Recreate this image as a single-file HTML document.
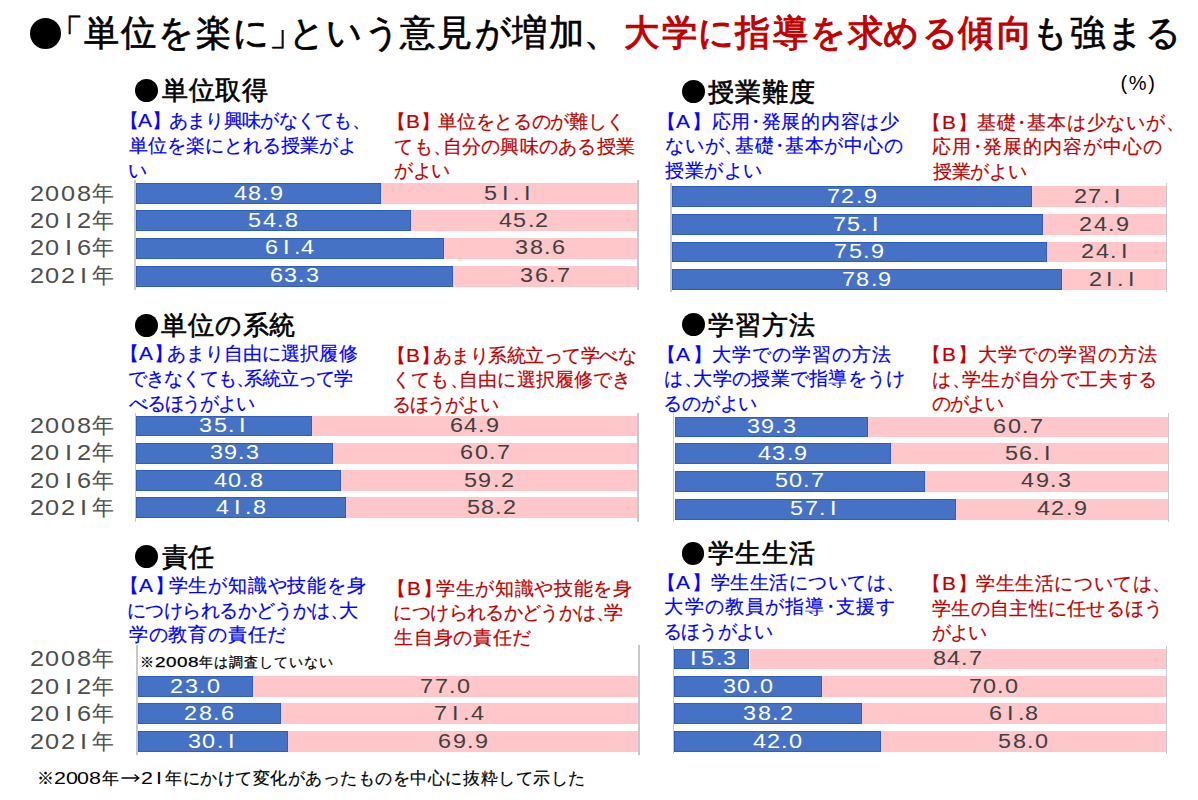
<!DOCTYPE html>
<html lang="ja"><head><meta charset="utf-8"><title>chart</title>
<style>
*{margin:0;padding:0;box-sizing:border-box}
html,body{width:1198px;height:800px;overflow:hidden;background:#fff}
body{position:relative;font-family:"Liberation Sans",sans-serif;color:#000}
.a{position:absolute;white-space:nowrap}
.c{position:absolute;border-radius:50%;background:#000}
.ti{position:absolute;white-space:nowrap;font-size:35px;line-height:45px;-webkit-text-stroke:0.7px #000;transform:scaleY(1.02);transform-origin:0 23px}
.tr{color:#c00000;-webkit-text-stroke:1.1px #c00000}
.t{position:absolute;white-space:nowrap;font-size:19px;line-height:24px;-webkit-text-stroke:0.2px}
.h{position:absolute;white-space:nowrap;font-size:26px;line-height:32px;-webkit-text-stroke:0.65px #000}
.bar{position:absolute}
.bb{box-shadow:inset 0 0 0 1px #2e5fc0}
.one{font-style:normal;padding:0 0.139em}
.fd{display:inline-block;transform:scaleX(1.3);transform-origin:0 0;letter-spacing:-0.2px;-webkit-text-stroke:0}
#foot{-webkit-text-stroke:0.2px}
#note{-webkit-text-stroke:0.25px}
.ax{position:absolute;width:1.5px;background:#c8c8c8}
.v{position:absolute;white-space:nowrap;text-align:center;font-size:19.5px;line-height:20px}
.v span{display:inline-block;transform:scaleX(1.2)}
.yr{position:absolute;white-space:nowrap;font-size:22px;line-height:24px;color:#4d4d4d}
.yd{display:inline-block;transform:scaleX(1.15);transform-origin:0 0;letter-spacing:1.35px;margin-right:8.15px}
.q{position:absolute;white-space:nowrap}
.k0{font-size:20px;line-height:22px;color:rgb(0, 0, 0)}
.k1{font-size:26px;line-height:32px;color:rgb(0, 0, 0);-webkit-text-stroke:0.65px rgb(0, 0, 0)}
.k2{font-size:19px;line-height:24px;color:rgb(0, 0, 255);-webkit-text-stroke:0.2px rgb(0, 0, 255)}
.k3{font-size:19px;line-height:24px;color:rgb(0, 0, 255);-webkit-text-stroke:0.2px rgb(0, 0, 255);transform:matrix(1.1, 0, 0, 1, 0, 0);transform-origin:0 0}
.k4{font-size:19px;line-height:24px;color:rgb(192, 0, 0);-webkit-text-stroke:0.2px rgb(192, 0, 0)}
.k5{font-size:19px;line-height:24px;color:rgb(192, 0, 0);-webkit-text-stroke:0.2px rgb(192, 0, 0);transform:matrix(1.1, 0, 0, 1, 0, 0);transform-origin:0 0}
.k6{font-size:22px;line-height:24px;color:rgb(77, 77, 77);transform:matrix(1.15, 0, 0, 1, 0, 0);transform-origin:0 0}
.k7{font-size:22px;line-height:24px;color:rgb(77, 77, 77)}
.k8{font-size:19.5px;line-height:20px;color:rgb(255, 255, 255);transform:matrix(1.2, 0, 0, 1, 0, 0);transform-origin:0 0}
.k9{font-size:19.5px;line-height:20px;color:rgb(64, 64, 64);transform:matrix(1.2, 0, 0, 1, 0, 0);transform-origin:0 0}
.k10{font-size:14px;line-height:16px;color:rgb(0, 0, 0);-webkit-text-stroke:0.25px rgb(0, 0, 0)}
.k11{font-size:14px;line-height:16px;color:rgb(0, 0, 0);-webkit-text-stroke:0.25px rgb(0, 0, 0);transform:matrix(1.35, 0, 0, 1, 0, 0);transform-origin:0 0}
.k12{font-size:16.5px;line-height:20px;color:rgb(0, 0, 0);-webkit-text-stroke:0.2px rgb(0, 0, 0)}
.k13{font-size:16.5px;line-height:20px;color:rgb(0, 0, 0);transform:matrix(1.3, 0, 0, 1, 0, 0);transform-origin:0 0}
</style></head><body>

<div class="c" style="left:30px;top:17.5px;width:31px;height:31px"></div>
<div class="ti" style="left:48.1px;top:9.6px">「</div>
<div class="ti" style="left:84.2px;top:9.6px">単</div>
<div class="ti" style="left:121.3px;top:9.6px">位</div>
<div class="ti" style="left:158.2px;top:9.6px">を</div>
<div class="ti" style="left:196.4px;top:9.6px">楽</div>
<div class="ti" style="left:232.9px;top:9.6px">に</div>
<div class="ti" style="left:268.9px;top:9.6px">」</div>
<div class="ti" style="left:289.4px;top:9.6px">と</div>
<div class="ti" style="left:325.5px;top:9.6px">い</div>
<div class="ti" style="left:364.1px;top:9.6px">う</div>
<div class="ti" style="left:400.4px;top:9.6px">意</div>
<div class="ti" style="left:437.1px;top:9.6px">見</div>
<div class="ti" style="left:475.1px;top:9.6px">が</div>
<div class="ti" style="left:512.0px;top:9.6px">増</div>
<div class="ti" style="left:549.3px;top:9.6px">加</div>
<div class="ti" style="left:584.0px;top:9.6px">、</div>
<div class="ti tr" style="left:624.4px;top:9.6px">大</div>
<div class="ti tr" style="left:661.5px;top:9.6px">学</div>
<div class="ti tr" style="left:698.2px;top:9.6px">に</div>
<div class="ti tr" style="left:735.1px;top:9.6px">指</div>
<div class="ti tr" style="left:772.6px;top:9.6px">導</div>
<div class="ti tr" style="left:809.5px;top:9.6px">を</div>
<div class="ti tr" style="left:848.0px;top:9.6px">求</div>
<div class="ti tr" style="left:883.4px;top:9.6px">め</div>
<div class="ti tr" style="left:922.4px;top:9.6px">る</div>
<div class="ti tr" style="left:958.2px;top:9.6px">傾</div>
<div class="ti tr" style="left:997.0px;top:9.6px">向</div>
<div class="ti" style="left:1031.9px;top:9.6px">も</div>
<div class="ti" style="left:1069.6px;top:9.6px">強</div>
<div class="ti" style="left:1106.6px;top:9.6px">ま</div>
<div class="ti" style="left:1145.0px;top:9.6px">る</div>
<div class="c" style="left:135.0px;top:78.8px;width:23.3px;height:23.3px"></div>
<div class="c" style="left:681.6px;top:80.0px;width:23.2px;height:23.2px"></div>
<div class="c" style="left:134.8px;top:314.0px;width:22.8px;height:22.8px"></div>
<div class="c" style="left:681.6px;top:313.1px;width:23.0px;height:23.0px"></div>
<div class="c" style="left:135.0px;top:545.0px;width:23.1px;height:23.1px"></div>
<div class="c" style="left:681.6px;top:541.9px;width:22.7px;height:22.7px"></div>
<div class="ax" style="left:134.4px;top:180.0px;height:109.5px"></div>
<div class="ax" style="left:637.0px;top:180.0px;height:109.5px"></div>
<div class="bar bb" style="left:136.0px;top:183.4px;width:245.0px;height:20.6px;background:#4672c5"></div>
<div class="bar" style="left:381.0px;top:183.4px;width:256.0px;height:20.6px;background:#ffc7c9"></div>
<div class="bar bb" style="left:136.0px;top:210.4px;width:274.5px;height:20.6px;background:#4672c5"></div>
<div class="bar" style="left:410.5px;top:210.4px;width:226.5px;height:20.6px;background:#ffc7c9"></div>
<div class="bar bb" style="left:136.0px;top:238.0px;width:307.6px;height:20.6px;background:#4672c5"></div>
<div class="bar" style="left:443.6px;top:238.0px;width:193.4px;height:20.6px;background:#ffc7c9"></div>
<div class="bar bb" style="left:136.0px;top:266.0px;width:317.1px;height:20.6px;background:#4672c5"></div>
<div class="bar" style="left:453.1px;top:266.0px;width:183.9px;height:20.6px;background:#ffc7c9"></div>
<div class="ax" style="left:670.4px;top:183.4px;height:109.1px"></div>
<div class="ax" style="left:1165.7px;top:183.4px;height:109.1px"></div>
<div class="bar bb" style="left:672.0px;top:186.4px;width:359.9px;height:20.9px;background:#4672c5"></div>
<div class="bar" style="left:1031.9px;top:186.4px;width:133.8px;height:20.9px;background:#ffc7c9"></div>
<div class="bar bb" style="left:672.0px;top:214.4px;width:370.8px;height:20.9px;background:#4672c5"></div>
<div class="bar" style="left:1042.8px;top:214.4px;width:122.9px;height:20.9px;background:#ffc7c9"></div>
<div class="bar bb" style="left:672.0px;top:241.5px;width:374.7px;height:20.9px;background:#4672c5"></div>
<div class="bar" style="left:1046.7px;top:241.5px;width:119.0px;height:20.9px;background:#ffc7c9"></div>
<div class="bar bb" style="left:672.0px;top:269.4px;width:389.5px;height:20.9px;background:#4672c5"></div>
<div class="bar" style="left:1061.5px;top:269.4px;width:104.2px;height:20.9px;background:#ffc7c9"></div>
<div class="ax" style="left:134.6px;top:413.0px;height:108.6px"></div>
<div class="ax" style="left:637.2px;top:413.0px;height:108.6px"></div>
<div class="bar bb" style="left:136.2px;top:415.5px;width:175.9px;height:20.8px;background:#4672c5"></div>
<div class="bar" style="left:312.1px;top:415.5px;width:325.1px;height:20.8px;background:#ffc7c9"></div>
<div class="bar bb" style="left:136.2px;top:442.8px;width:196.9px;height:20.8px;background:#4672c5"></div>
<div class="bar" style="left:333.1px;top:442.8px;width:304.1px;height:20.8px;background:#ffc7c9"></div>
<div class="bar bb" style="left:136.2px;top:470.4px;width:204.4px;height:20.8px;background:#4672c5"></div>
<div class="bar" style="left:340.6px;top:470.4px;width:296.6px;height:20.8px;background:#ffc7c9"></div>
<div class="bar bb" style="left:136.2px;top:497.3px;width:209.4px;height:20.8px;background:#4672c5"></div>
<div class="bar" style="left:345.6px;top:497.3px;width:291.6px;height:20.8px;background:#ffc7c9"></div>
<div class="ax" style="left:672.9px;top:413.1px;height:109.4px"></div>
<div class="ax" style="left:1167.8px;top:413.1px;height:109.4px"></div>
<div class="bar bb" style="left:674.5px;top:416.5px;width:193.9px;height:20.6px;background:#4672c5"></div>
<div class="bar" style="left:868.4px;top:416.5px;width:299.4px;height:20.6px;background:#ffc7c9"></div>
<div class="bar bb" style="left:674.5px;top:443.3px;width:216.6px;height:20.6px;background:#4672c5"></div>
<div class="bar" style="left:891.1px;top:443.3px;width:276.7px;height:20.6px;background:#ffc7c9"></div>
<div class="bar bb" style="left:674.5px;top:471.1px;width:250.1px;height:20.6px;background:#4672c5"></div>
<div class="bar" style="left:924.6px;top:471.1px;width:243.2px;height:20.6px;background:#ffc7c9"></div>
<div class="bar bb" style="left:674.5px;top:499.1px;width:281.7px;height:20.6px;background:#4672c5"></div>
<div class="bar" style="left:956.2px;top:499.1px;width:211.6px;height:20.6px;background:#ffc7c9"></div>
<div class="ax" style="left:136.0px;top:645.4px;height:109.6px"></div>
<div class="ax" style="left:638.0px;top:645.4px;height:109.6px"></div>
<div class="bar bb" style="left:137.6px;top:676.2px;width:115.1px;height:20.7px;background:#4672c5"></div>
<div class="bar" style="left:252.7px;top:676.2px;width:385.3px;height:20.7px;background:#ffc7c9"></div>
<div class="bar bb" style="left:137.6px;top:703.1px;width:143.1px;height:20.7px;background:#4672c5"></div>
<div class="bar" style="left:280.7px;top:703.1px;width:357.3px;height:20.7px;background:#ffc7c9"></div>
<div class="bar bb" style="left:137.6px;top:731.1px;width:150.6px;height:20.7px;background:#4672c5"></div>
<div class="bar" style="left:288.2px;top:731.1px;width:349.8px;height:20.7px;background:#ffc7c9"></div>
<div class="ax" style="left:672.7px;top:645.5px;height:108.3px"></div>
<div class="ax" style="left:1165.7px;top:645.5px;height:108.3px"></div>
<div class="bar bb" style="left:674.3px;top:648.5px;width:75.2px;height:20.7px;background:#4672c5"></div>
<div class="bar" style="left:749.5px;top:648.5px;width:416.2px;height:20.7px;background:#ffc7c9"></div>
<div class="bar bb" style="left:674.3px;top:676.3px;width:147.4px;height:20.7px;background:#4672c5"></div>
<div class="bar" style="left:821.7px;top:676.3px;width:344.0px;height:20.7px;background:#ffc7c9"></div>
<div class="bar bb" style="left:674.3px;top:703.1px;width:187.7px;height:20.7px;background:#4672c5"></div>
<div class="bar" style="left:862.0px;top:703.1px;width:303.7px;height:20.7px;background:#ffc7c9"></div>
<div class="bar bb" style="left:674.3px;top:731.1px;width:206.4px;height:20.7px;background:#4672c5"></div>
<div class="bar" style="left:880.7px;top:731.1px;width:285.0px;height:20.7px;background:#ffc7c9"></div>


<div class="q k0" style="left:1120.59px;top:71.59px">(</div>
<div class="q k0" style="left:1128.84px;top:71.59px">%</div>
<div class="q k0" style="left:1148.23px;top:71.59px">)</div>
<div class="q k1" style="left:162.30px;top:73.50px">単</div>
<div class="q k1" style="left:188.77px;top:73.50px">位</div>
<div class="q k1" style="left:215.23px;top:73.50px">取</div>
<div class="q k1" style="left:241.70px;top:73.50px">得</div>
<div class="q k1" style="left:708.30px;top:75.50px">授</div>
<div class="q k1" style="left:735.16px;top:75.50px">業</div>
<div class="q k1" style="left:762.02px;top:75.50px">難</div>
<div class="q k1" style="left:788.88px;top:75.50px">度</div>
<div class="q k1" style="left:161.19px;top:309.09px">単</div>
<div class="q k1" style="left:188.00px;top:309.09px">位</div>
<div class="q k1" style="left:214.83px;top:309.09px">の</div>
<div class="q k1" style="left:242.66px;top:309.09px">系</div>
<div class="q k1" style="left:269.48px;top:309.09px">統</div>
<div class="q k1" style="left:707.59px;top:309.00px">学</div>
<div class="q k1" style="left:734.69px;top:309.00px">習</div>
<div class="q k1" style="left:761.80px;top:309.00px">方</div>
<div class="q k1" style="left:788.89px;top:309.00px">法</div>
<div class="q k1" style="left:161.69px;top:540.50px">責</div>
<div class="q k1" style="left:187.69px;top:540.50px">任</div>
<div class="q k1" style="left:707.59px;top:537.14px">学</div>
<div class="q k1" style="left:734.69px;top:537.14px">生</div>
<div class="q k1" style="left:761.80px;top:537.14px">生</div>
<div class="q k1" style="left:788.89px;top:537.14px">活</div>
<div class="q k2" style="left:119.50px;top:109.30px">【</div>
<div class="q k3" style="left:137.81px;top:109.30px">A</div>
<div class="q k2" style="left:152.30px;top:109.30px">】</div>
<div class="q k2" style="left:168.69px;top:109.30px">あ</div>
<div class="q k2" style="left:187.00px;top:109.30px">ま</div>
<div class="q k2" style="left:205.30px;top:109.30px">り</div>
<div class="q k2" style="left:223.61px;top:109.30px">興</div>
<div class="q k2" style="left:241.91px;top:109.30px">味</div>
<div class="q k2" style="left:260.22px;top:109.30px">が</div>
<div class="q k2" style="left:278.52px;top:109.30px">な</div>
<div class="q k2" style="left:296.83px;top:109.30px">く</div>
<div class="q k2" style="left:315.14px;top:109.30px">て</div>
<div class="q k2" style="left:333.44px;top:109.30px">も</div>
<div class="q k2" style="left:351.77px;top:109.30px">、</div>
<div class="q k2" style="left:128.89px;top:133.89px">単</div>
<div class="q k2" style="left:147.88px;top:133.89px">位</div>
<div class="q k2" style="left:166.88px;top:133.89px">を</div>
<div class="q k2" style="left:185.88px;top:133.89px">楽</div>
<div class="q k2" style="left:204.88px;top:133.89px">に</div>
<div class="q k2" style="left:223.88px;top:133.89px">と</div>
<div class="q k2" style="left:242.88px;top:133.89px">れ</div>
<div class="q k2" style="left:261.88px;top:133.89px">る</div>
<div class="q k2" style="left:280.88px;top:133.89px">授</div>
<div class="q k2" style="left:299.88px;top:133.89px">業</div>
<div class="q k2" style="left:318.88px;top:133.89px">が</div>
<div class="q k2" style="left:337.88px;top:133.89px">よ</div>
<div class="q k2" style="left:127.89px;top:158.50px">い</div>
<div class="q k4" style="left:387.39px;top:110.19px">【</div>
<div class="q k5" style="left:406.09px;top:110.19px">B</div>
<div class="q k4" style="left:420.98px;top:110.19px">】</div>
<div class="q k4" style="left:438.16px;top:110.19px">単</div>
<div class="q k4" style="left:456.86px;top:110.19px">位</div>
<div class="q k4" style="left:475.56px;top:110.19px">を</div>
<div class="q k4" style="left:494.27px;top:110.19px">と</div>
<div class="q k4" style="left:512.97px;top:110.19px">る</div>
<div class="q k4" style="left:531.67px;top:110.19px">の</div>
<div class="q k4" style="left:550.38px;top:110.19px">が</div>
<div class="q k4" style="left:569.08px;top:110.19px">難</div>
<div class="q k4" style="left:587.78px;top:110.19px">し</div>
<div class="q k4" style="left:606.48px;top:110.19px">く</div>
<div class="q k4" style="left:394.39px;top:134.80px">て</div>
<div class="q k4" style="left:413.62px;top:134.80px">も</div>
<div class="q k4" style="left:432.88px;top:134.80px">、</div>
<div class="q k4" style="left:442.62px;top:134.80px">自</div>
<div class="q k4" style="left:461.86px;top:134.80px">分</div>
<div class="q k4" style="left:481.09px;top:134.80px">の</div>
<div class="q k4" style="left:500.33px;top:134.80px">興</div>
<div class="q k4" style="left:519.58px;top:134.80px">味</div>
<div class="q k4" style="left:538.81px;top:134.80px">の</div>
<div class="q k4" style="left:558.05px;top:134.80px">あ</div>
<div class="q k4" style="left:577.30px;top:134.80px">る</div>
<div class="q k4" style="left:596.53px;top:134.80px">授</div>
<div class="q k4" style="left:615.77px;top:134.80px">業</div>
<div class="q k4" style="left:394.39px;top:159.39px">が</div>
<div class="q k4" style="left:412.53px;top:159.39px">よ</div>
<div class="q k4" style="left:430.69px;top:159.39px">い</div>
<div class="q k2" style="left:656.50px;top:109.80px">【</div>
<div class="q k3" style="left:676.30px;top:109.80px">A</div>
<div class="q k2" style="left:692.27px;top:109.80px">】</div>
<div class="q k2" style="left:711.62px;top:109.80px">応</div>
<div class="q k2" style="left:731.41px;top:109.80px">用</div>
<div class="q k2" style="left:746.47px;top:109.80px">・</div>
<div class="q k2" style="left:761.52px;top:109.80px">発</div>
<div class="q k2" style="left:781.30px;top:109.80px">展</div>
<div class="q k2" style="left:801.09px;top:109.80px">的</div>
<div class="q k2" style="left:820.88px;top:109.80px">内</div>
<div class="q k2" style="left:840.67px;top:109.80px">容</div>
<div class="q k2" style="left:860.45px;top:109.80px">は</div>
<div class="q k2" style="left:880.25px;top:109.80px">少</div>
<div class="q k2" style="left:665.00px;top:134.39px">な</div>
<div class="q k2" style="left:684.81px;top:134.39px">い</div>
<div class="q k2" style="left:704.64px;top:134.39px">が</div>
<div class="q k2" style="left:724.48px;top:134.39px">、</div>
<div class="q k2" style="left:734.81px;top:134.39px">基</div>
<div class="q k2" style="left:754.62px;top:134.39px">礎</div>
<div class="q k2" style="left:769.72px;top:134.39px">・</div>
<div class="q k2" style="left:784.80px;top:134.39px">基</div>
<div class="q k2" style="left:804.61px;top:134.39px">本</div>
<div class="q k2" style="left:824.44px;top:134.39px">が</div>
<div class="q k2" style="left:844.27px;top:134.39px">中</div>
<div class="q k2" style="left:864.08px;top:134.39px">心</div>
<div class="q k2" style="left:883.91px;top:134.39px">の</div>
<div class="q k2" style="left:665.39px;top:159.00px">授</div>
<div class="q k2" style="left:684.77px;top:159.00px">業</div>
<div class="q k2" style="left:704.14px;top:159.00px">が</div>
<div class="q k2" style="left:723.52px;top:159.00px">よ</div>
<div class="q k2" style="left:742.89px;top:159.00px">い</div>
<div class="q k4" style="left:922.30px;top:110.80px">【</div>
<div class="q k5" style="left:942.09px;top:110.80px">B</div>
<div class="q k4" style="left:958.06px;top:110.80px">】</div>
<div class="q k4" style="left:977.42px;top:110.80px">基</div>
<div class="q k4" style="left:997.20px;top:110.80px">礎</div>
<div class="q k4" style="left:1012.25px;top:110.80px">・</div>
<div class="q k4" style="left:1027.30px;top:110.80px">基</div>
<div class="q k4" style="left:1047.08px;top:110.80px">本</div>
<div class="q k4" style="left:1066.86px;top:110.80px">は</div>
<div class="q k4" style="left:1086.64px;top:110.80px">少</div>
<div class="q k4" style="left:1106.44px;top:110.80px">な</div>
<div class="q k4" style="left:1126.22px;top:110.80px">い</div>
<div class="q k4" style="left:1146.00px;top:110.80px">が</div>
<div class="q k4" style="left:1165.81px;top:110.80px">、</div>
<div class="q k4" style="left:932.19px;top:135.39px">応</div>
<div class="q k4" style="left:952.22px;top:135.39px">用</div>
<div class="q k4" style="left:967.53px;top:135.39px">・</div>
<div class="q k4" style="left:982.83px;top:135.39px">発</div>
<div class="q k4" style="left:1002.86px;top:135.39px">展</div>
<div class="q k4" style="left:1022.91px;top:135.39px">的</div>
<div class="q k4" style="left:1042.95px;top:135.39px">内</div>
<div class="q k4" style="left:1063.00px;top:135.39px">容</div>
<div class="q k4" style="left:1083.05px;top:135.39px">が</div>
<div class="q k4" style="left:1103.09px;top:135.39px">中</div>
<div class="q k4" style="left:1123.14px;top:135.39px">心</div>
<div class="q k4" style="left:1143.19px;top:135.39px">の</div>
<div class="q k4" style="left:933.19px;top:160.00px">授</div>
<div class="q k4" style="left:951.83px;top:160.00px">業</div>
<div class="q k4" style="left:970.48px;top:160.00px">が</div>
<div class="q k4" style="left:989.12px;top:160.00px">よ</div>
<div class="q k4" style="left:1007.78px;top:160.00px">い</div>
<div class="q k2" style="left:119.59px;top:342.39px">【</div>
<div class="q k3" style="left:138.70px;top:342.39px">A</div>
<div class="q k2" style="left:153.98px;top:342.39px">】</div>
<div class="q k2" style="left:166.59px;top:342.39px">あ</div>
<div class="q k2" style="left:185.69px;top:342.39px">ま</div>
<div class="q k2" style="left:204.80px;top:342.39px">り</div>
<div class="q k2" style="left:223.91px;top:342.39px">自</div>
<div class="q k2" style="left:243.00px;top:342.39px">由</div>
<div class="q k2" style="left:262.11px;top:342.39px">に</div>
<div class="q k2" style="left:281.22px;top:342.39px">選</div>
<div class="q k2" style="left:300.33px;top:342.39px">択</div>
<div class="q k2" style="left:319.42px;top:342.39px">履</div>
<div class="q k2" style="left:338.53px;top:342.39px">修</div>
<div class="q k2" style="left:127.80px;top:367.00px">で</div>
<div class="q k2" style="left:145.78px;top:367.00px">き</div>
<div class="q k2" style="left:163.78px;top:367.00px">な</div>
<div class="q k2" style="left:181.78px;top:367.00px">く</div>
<div class="q k2" style="left:199.78px;top:367.00px">て</div>
<div class="q k2" style="left:217.78px;top:367.00px">も</div>
<div class="q k2" style="left:235.80px;top:367.00px">、</div>
<div class="q k2" style="left:244.30px;top:367.00px">系</div>
<div class="q k2" style="left:262.28px;top:367.00px">統</div>
<div class="q k2" style="left:280.28px;top:367.00px">立</div>
<div class="q k2" style="left:298.28px;top:367.00px">っ</div>
<div class="q k2" style="left:316.28px;top:367.00px">て</div>
<div class="q k2" style="left:334.28px;top:367.00px">学</div>
<div class="q k2" style="left:128.80px;top:391.59px">べ</div>
<div class="q k2" style="left:146.67px;top:391.59px">る</div>
<div class="q k2" style="left:164.55px;top:391.59px">ほ</div>
<div class="q k2" style="left:182.42px;top:391.59px">う</div>
<div class="q k2" style="left:200.30px;top:391.59px">が</div>
<div class="q k2" style="left:218.17px;top:391.59px">よ</div>
<div class="q k2" style="left:236.05px;top:391.59px">い</div>
<div class="q k4" style="left:387.39px;top:343.69px">【</div>
<div class="q k5" style="left:405.92px;top:343.69px">B</div>
<div class="q k4" style="left:420.62px;top:343.69px">】</div>
<div class="q k4" style="left:432.66px;top:343.69px">あ</div>
<div class="q k4" style="left:451.17px;top:343.69px">ま</div>
<div class="q k4" style="left:469.70px;top:343.69px">り</div>
<div class="q k4" style="left:488.23px;top:343.69px">系</div>
<div class="q k4" style="left:506.77px;top:343.69px">統</div>
<div class="q k4" style="left:525.28px;top:343.69px">立</div>
<div class="q k4" style="left:543.81px;top:343.69px">っ</div>
<div class="q k4" style="left:562.34px;top:343.69px">て</div>
<div class="q k4" style="left:580.88px;top:343.69px">学</div>
<div class="q k4" style="left:599.41px;top:343.69px">べ</div>
<div class="q k4" style="left:617.92px;top:343.69px">な</div>
<div class="q k4" style="left:392.09px;top:368.30px">く</div>
<div class="q k4" style="left:411.22px;top:368.30px">て</div>
<div class="q k4" style="left:430.34px;top:368.30px">も</div>
<div class="q k4" style="left:449.50px;top:368.30px">、</div>
<div class="q k4" style="left:459.14px;top:368.30px">自</div>
<div class="q k4" style="left:478.27px;top:368.30px">由</div>
<div class="q k4" style="left:497.39px;top:368.30px">に</div>
<div class="q k4" style="left:516.53px;top:368.30px">選</div>
<div class="q k4" style="left:535.66px;top:368.30px">択</div>
<div class="q k4" style="left:554.78px;top:368.30px">履</div>
<div class="q k4" style="left:573.92px;top:368.30px">修</div>
<div class="q k4" style="left:593.05px;top:368.30px">で</div>
<div class="q k4" style="left:612.19px;top:368.30px">き</div>
<div class="q k4" style="left:392.39px;top:392.89px">る</div>
<div class="q k4" style="left:409.89px;top:392.89px">ほ</div>
<div class="q k4" style="left:427.39px;top:392.89px">う</div>
<div class="q k4" style="left:444.89px;top:392.89px">が</div>
<div class="q k4" style="left:462.39px;top:392.89px">よ</div>
<div class="q k4" style="left:479.89px;top:392.89px">い</div>
<div class="q k2" style="left:656.50px;top:342.59px">【</div>
<div class="q k3" style="left:676.44px;top:342.59px">A</div>
<div class="q k2" style="left:692.55px;top:342.59px">】</div>
<div class="q k2" style="left:712.19px;top:342.59px">大</div>
<div class="q k2" style="left:732.11px;top:342.59px">学</div>
<div class="q k2" style="left:752.03px;top:342.59px">で</div>
<div class="q k2" style="left:771.97px;top:342.59px">の</div>
<div class="q k2" style="left:791.89px;top:342.59px">学</div>
<div class="q k2" style="left:811.81px;top:342.59px">習</div>
<div class="q k2" style="left:831.75px;top:342.59px">の</div>
<div class="q k2" style="left:851.67px;top:342.59px">方</div>
<div class="q k2" style="left:871.59px;top:342.59px">法</div>
<div class="q k2" style="left:664.39px;top:367.19px">は</div>
<div class="q k2" style="left:683.67px;top:367.19px">、</div>
<div class="q k2" style="left:693.45px;top:367.19px">大</div>
<div class="q k2" style="left:712.72px;top:367.19px">学</div>
<div class="q k2" style="left:731.98px;top:367.19px">の</div>
<div class="q k2" style="left:751.27px;top:367.19px">授</div>
<div class="q k2" style="left:770.53px;top:367.19px">業</div>
<div class="q k2" style="left:789.80px;top:367.19px">で</div>
<div class="q k2" style="left:809.08px;top:367.19px">指</div>
<div class="q k2" style="left:828.34px;top:367.19px">導</div>
<div class="q k2" style="left:847.61px;top:367.19px">を</div>
<div class="q k2" style="left:866.89px;top:367.19px">う</div>
<div class="q k2" style="left:886.16px;top:367.19px">け</div>
<div class="q k2" style="left:663.39px;top:391.80px">る</div>
<div class="q k2" style="left:682.14px;top:391.80px">の</div>
<div class="q k2" style="left:700.89px;top:391.80px">が</div>
<div class="q k2" style="left:719.64px;top:391.80px">よ</div>
<div class="q k2" style="left:738.39px;top:391.80px">い</div>
<div class="q k4" style="left:922.30px;top:343.09px">【</div>
<div class="q k5" style="left:942.25px;top:343.09px">B</div>
<div class="q k4" style="left:958.38px;top:343.09px">】</div>
<div class="q k4" style="left:978.05px;top:343.09px">大</div>
<div class="q k4" style="left:997.98px;top:343.09px">学</div>
<div class="q k4" style="left:1017.92px;top:343.09px">で</div>
<div class="q k4" style="left:1037.88px;top:343.09px">の</div>
<div class="q k4" style="left:1057.81px;top:343.09px">学</div>
<div class="q k4" style="left:1077.75px;top:343.09px">習</div>
<div class="q k4" style="left:1097.70px;top:343.09px">の</div>
<div class="q k4" style="left:1117.64px;top:343.09px">方</div>
<div class="q k4" style="left:1137.59px;top:343.09px">法</div>
<div class="q k4" style="left:932.19px;top:367.69px">は</div>
<div class="q k4" style="left:951.78px;top:367.69px">、</div>
<div class="q k4" style="left:961.88px;top:367.69px">学</div>
<div class="q k4" style="left:981.45px;top:367.69px">生</div>
<div class="q k4" style="left:1001.05px;top:367.69px">が</div>
<div class="q k4" style="left:1020.64px;top:367.69px">自</div>
<div class="q k4" style="left:1040.23px;top:367.69px">分</div>
<div class="q k4" style="left:1059.83px;top:367.69px">で</div>
<div class="q k4" style="left:1079.42px;top:367.69px">工</div>
<div class="q k4" style="left:1099.02px;top:367.69px">夫</div>
<div class="q k4" style="left:1118.61px;top:367.69px">す</div>
<div class="q k4" style="left:1138.19px;top:367.69px">る</div>
<div class="q k4" style="left:932.19px;top:392.30px">の</div>
<div class="q k4" style="left:949.81px;top:392.30px">が</div>
<div class="q k4" style="left:967.44px;top:392.30px">よ</div>
<div class="q k4" style="left:985.08px;top:392.30px">い</div>
<div class="q k2" style="left:119.59px;top:574.09px">【</div>
<div class="q k3" style="left:139.39px;top:574.09px">A</div>
<div class="q k2" style="left:155.36px;top:574.09px">】</div>
<div class="q k2" style="left:168.66px;top:574.09px">学</div>
<div class="q k2" style="left:188.44px;top:574.09px">生</div>
<div class="q k2" style="left:208.23px;top:574.09px">が</div>
<div class="q k2" style="left:228.03px;top:574.09px">知</div>
<div class="q k2" style="left:247.81px;top:574.09px">識</div>
<div class="q k2" style="left:267.61px;top:574.09px">や</div>
<div class="q k2" style="left:287.41px;top:574.09px">技</div>
<div class="q k2" style="left:307.19px;top:574.09px">能</div>
<div class="q k2" style="left:326.98px;top:574.09px">を</div>
<div class="q k2" style="left:346.78px;top:574.09px">身</div>
<div class="q k2" style="left:126.80px;top:598.69px">に</div>
<div class="q k2" style="left:145.25px;top:598.69px">つ</div>
<div class="q k2" style="left:163.70px;top:598.69px">け</div>
<div class="q k2" style="left:182.17px;top:598.69px">ら</div>
<div class="q k2" style="left:200.62px;top:598.69px">れ</div>
<div class="q k2" style="left:219.08px;top:598.69px">る</div>
<div class="q k2" style="left:237.55px;top:598.69px">か</div>
<div class="q k2" style="left:256.00px;top:598.69px">ど</div>
<div class="q k2" style="left:274.47px;top:598.69px">う</div>
<div class="q k2" style="left:292.92px;top:598.69px">か</div>
<div class="q k2" style="left:311.38px;top:598.69px">は</div>
<div class="q k2" style="left:329.86px;top:598.69px">、</div>
<div class="q k2" style="left:338.83px;top:598.69px">大</div>
<div class="q k2" style="left:128.80px;top:623.30px">学</div>
<div class="q k2" style="left:148.58px;top:623.30px">の</div>
<div class="q k2" style="left:168.36px;top:623.30px">教</div>
<div class="q k2" style="left:188.14px;top:623.30px">育</div>
<div class="q k2" style="left:207.94px;top:623.30px">の</div>
<div class="q k2" style="left:227.72px;top:623.30px">責</div>
<div class="q k2" style="left:247.50px;top:623.30px">任</div>
<div class="q k2" style="left:267.30px;top:623.30px">だ</div>
<div class="q k4" style="left:387.39px;top:576.80px">【</div>
<div class="q k5" style="left:407.06px;top:576.80px">B</div>
<div class="q k4" style="left:422.91px;top:576.80px">】</div>
<div class="q k4" style="left:436.08px;top:576.80px">学</div>
<div class="q k4" style="left:455.73px;top:576.80px">生</div>
<div class="q k4" style="left:475.41px;top:576.80px">が</div>
<div class="q k4" style="left:495.08px;top:576.80px">知</div>
<div class="q k4" style="left:514.73px;top:576.80px">識</div>
<div class="q k4" style="left:534.41px;top:576.80px">や</div>
<div class="q k4" style="left:554.08px;top:576.80px">技</div>
<div class="q k4" style="left:573.73px;top:576.80px">能</div>
<div class="q k4" style="left:593.41px;top:576.80px">を</div>
<div class="q k4" style="left:613.08px;top:576.80px">身</div>
<div class="q k4" style="left:393.39px;top:601.39px">に</div>
<div class="q k4" style="left:411.77px;top:601.39px">つ</div>
<div class="q k4" style="left:430.14px;top:601.39px">け</div>
<div class="q k4" style="left:448.52px;top:601.39px">ら</div>
<div class="q k4" style="left:466.89px;top:601.39px">れ</div>
<div class="q k4" style="left:485.27px;top:601.39px">る</div>
<div class="q k4" style="left:503.64px;top:601.39px">か</div>
<div class="q k4" style="left:522.02px;top:601.39px">ど</div>
<div class="q k4" style="left:540.39px;top:601.39px">う</div>
<div class="q k4" style="left:558.77px;top:601.39px">か</div>
<div class="q k4" style="left:577.14px;top:601.39px">は</div>
<div class="q k4" style="left:595.52px;top:601.39px">、</div>
<div class="q k4" style="left:604.39px;top:601.39px">学</div>
<div class="q k4" style="left:394.39px;top:626.00px">生</div>
<div class="q k4" style="left:414.00px;top:626.00px">自</div>
<div class="q k4" style="left:433.62px;top:626.00px">身</div>
<div class="q k4" style="left:453.25px;top:626.00px">の</div>
<div class="q k4" style="left:472.88px;top:626.00px">責</div>
<div class="q k4" style="left:492.50px;top:626.00px">任</div>
<div class="q k4" style="left:512.11px;top:626.00px">だ</div>
<div class="q k2" style="left:656.50px;top:570.80px">【</div>
<div class="q k3" style="left:676.03px;top:570.80px">A</div>
<div class="q k2" style="left:691.73px;top:570.80px">】</div>
<div class="q k2" style="left:710.56px;top:570.80px">学</div>
<div class="q k2" style="left:730.09px;top:570.80px">生</div>
<div class="q k2" style="left:749.62px;top:570.80px">生</div>
<div class="q k2" style="left:769.16px;top:570.80px">活</div>
<div class="q k2" style="left:788.67px;top:570.80px">に</div>
<div class="q k2" style="left:808.20px;top:570.80px">つ</div>
<div class="q k2" style="left:827.73px;top:570.80px">い</div>
<div class="q k2" style="left:847.27px;top:570.80px">て</div>
<div class="q k2" style="left:866.78px;top:570.80px">は</div>
<div class="q k2" style="left:886.33px;top:570.80px">、</div>
<div class="q k2" style="left:664.39px;top:595.39px">大</div>
<div class="q k2" style="left:684.52px;top:595.39px">学</div>
<div class="q k2" style="left:704.66px;top:595.39px">の</div>
<div class="q k2" style="left:724.78px;top:595.39px">教</div>
<div class="q k2" style="left:744.92px;top:595.39px">員</div>
<div class="q k2" style="left:765.06px;top:595.39px">が</div>
<div class="q k2" style="left:785.19px;top:595.39px">指</div>
<div class="q k2" style="left:805.33px;top:595.39px">導</div>
<div class="q k2" style="left:820.73px;top:595.39px">・</div>
<div class="q k2" style="left:836.12px;top:595.39px">支</div>
<div class="q k2" style="left:856.25px;top:595.39px">援</div>
<div class="q k2" style="left:876.39px;top:595.39px">す</div>
<div class="q k2" style="left:663.39px;top:620.00px">る</div>
<div class="q k2" style="left:681.42px;top:620.00px">ほ</div>
<div class="q k2" style="left:699.47px;top:620.00px">う</div>
<div class="q k2" style="left:717.50px;top:620.00px">が</div>
<div class="q k2" style="left:735.55px;top:620.00px">よ</div>
<div class="q k2" style="left:753.58px;top:620.00px">い</div>
<div class="q k4" style="left:922.30px;top:572.19px">【</div>
<div class="q k5" style="left:941.83px;top:572.19px">B</div>
<div class="q k4" style="left:957.53px;top:572.19px">】</div>
<div class="q k4" style="left:976.36px;top:572.19px">学</div>
<div class="q k4" style="left:995.88px;top:572.19px">生</div>
<div class="q k4" style="left:1015.41px;top:572.19px">生</div>
<div class="q k4" style="left:1034.92px;top:572.19px">活</div>
<div class="q k4" style="left:1054.45px;top:572.19px">に</div>
<div class="q k4" style="left:1073.97px;top:572.19px">つ</div>
<div class="q k4" style="left:1093.50px;top:572.19px">い</div>
<div class="q k4" style="left:1113.02px;top:572.19px">て</div>
<div class="q k4" style="left:1132.55px;top:572.19px">は</div>
<div class="q k4" style="left:1152.08px;top:572.19px">、</div>
<div class="q k4" style="left:932.19px;top:596.80px">学</div>
<div class="q k4" style="left:951.45px;top:596.80px">生</div>
<div class="q k4" style="left:970.72px;top:596.80px">の</div>
<div class="q k4" style="left:990.00px;top:596.80px">自</div>
<div class="q k4" style="left:1009.27px;top:596.80px">主</div>
<div class="q k4" style="left:1028.55px;top:596.80px">性</div>
<div class="q k4" style="left:1047.81px;top:596.80px">に</div>
<div class="q k4" style="left:1067.09px;top:596.80px">任</div>
<div class="q k4" style="left:1086.36px;top:596.80px">せ</div>
<div class="q k4" style="left:1105.64px;top:596.80px">る</div>
<div class="q k4" style="left:1124.91px;top:596.80px">ほ</div>
<div class="q k4" style="left:1144.19px;top:596.80px">う</div>
<div class="q k4" style="left:932.19px;top:621.39px">が</div>
<div class="q k4" style="left:950.23px;top:621.39px">よ</div>
<div class="q k4" style="left:968.28px;top:621.39px">い</div>
<div class="q k6" style="left:29.80px;top:181.69px">2</div>
<div class="q k6" style="left:45.41px;top:181.69px">0</div>
<div class="q k6" style="left:61.03px;top:181.69px">0</div>
<div class="q k6" style="left:76.66px;top:181.69px">8</div>
<div class="q k7" style="left:92.28px;top:181.69px">年</div>
<div class="q k8" style="left:233.62px;top:182.69px">4</div>
<div class="q k8" style="left:247.95px;top:182.69px">8</div>
<div class="q k8" style="left:262.27px;top:182.69px">.</div>
<div class="q k8" style="left:270.11px;top:182.69px">9</div>
<div class="q k9" style="left:484.12px;top:182.69px">5</div>
<div class="q k9" style="left:501.71px;top:182.69px">I</div>
<div class="q k9" style="left:512.79px;top:182.69px">.</div>
<div class="q k9" style="left:523.87px;top:182.69px">I</div>
<div class="q k6" style="left:29.80px;top:208.69px">2</div>
<div class="q k6" style="left:45.41px;top:208.69px">0</div>
<div class="q k6" style="left:64.55px;top:208.69px">I</div>
<div class="q k6" style="left:76.64px;top:208.69px">2</div>
<div class="q k7" style="left:92.27px;top:208.69px">年</div>
<div class="q k8" style="left:248.37px;top:209.69px">5</div>
<div class="q k8" style="left:262.70px;top:209.69px">4</div>
<div class="q k8" style="left:277.02px;top:209.69px">.</div>
<div class="q k8" style="left:284.86px;top:209.69px">8</div>
<div class="q k9" style="left:498.87px;top:209.69px">4</div>
<div class="q k9" style="left:513.20px;top:209.69px">5</div>
<div class="q k9" style="left:527.52px;top:209.69px">.</div>
<div class="q k9" style="left:535.36px;top:209.69px">2</div>
<div class="q k6" style="left:29.80px;top:236.30px">2</div>
<div class="q k6" style="left:45.41px;top:236.30px">0</div>
<div class="q k6" style="left:64.55px;top:236.30px">I</div>
<div class="q k6" style="left:76.64px;top:236.30px">6</div>
<div class="q k7" style="left:92.27px;top:236.30px">年</div>
<div class="q k8" style="left:264.92px;top:237.30px">6</div>
<div class="q k8" style="left:282.51px;top:237.30px">I</div>
<div class="q k8" style="left:293.59px;top:237.30px">.</div>
<div class="q k8" style="left:301.41px;top:237.30px">4</div>
<div class="q k9" style="left:515.42px;top:237.30px">3</div>
<div class="q k9" style="left:529.75px;top:237.30px">8</div>
<div class="q k9" style="left:544.07px;top:237.30px">.</div>
<div class="q k9" style="left:551.91px;top:237.30px">6</div>
<div class="q k6" style="left:29.80px;top:264.30px">2</div>
<div class="q k6" style="left:45.41px;top:264.30px">0</div>
<div class="q k6" style="left:61.03px;top:264.30px">2</div>
<div class="q k6" style="left:80.18px;top:264.30px">I</div>
<div class="q k7" style="left:92.27px;top:264.30px">年</div>
<div class="q k8" style="left:269.67px;top:265.30px">6</div>
<div class="q k8" style="left:284.00px;top:265.30px">3</div>
<div class="q k8" style="left:298.32px;top:265.30px">.</div>
<div class="q k8" style="left:306.16px;top:265.30px">3</div>
<div class="q k9" style="left:520.17px;top:265.30px">3</div>
<div class="q k9" style="left:534.50px;top:265.30px">6</div>
<div class="q k9" style="left:548.82px;top:265.30px">.</div>
<div class="q k9" style="left:556.66px;top:265.30px">7</div>
<div class="q k8" style="left:827.08px;top:185.80px">7</div>
<div class="q k8" style="left:841.40px;top:185.80px">2</div>
<div class="q k8" style="left:855.73px;top:185.80px">.</div>
<div class="q k8" style="left:863.56px;top:185.80px">9</div>
<div class="q k9" style="left:1073.92px;top:185.80px">2</div>
<div class="q k9" style="left:1088.25px;top:185.80px">7</div>
<div class="q k9" style="left:1102.57px;top:185.80px">.</div>
<div class="q k9" style="left:1113.67px;top:185.80px">I</div>
<div class="q k8" style="left:832.53px;top:213.80px">7</div>
<div class="q k8" style="left:846.85px;top:213.80px">5</div>
<div class="q k8" style="left:861.18px;top:213.80px">.</div>
<div class="q k8" style="left:872.28px;top:213.80px">I</div>
<div class="q k9" style="left:1079.37px;top:213.80px">2</div>
<div class="q k9" style="left:1093.70px;top:213.80px">4</div>
<div class="q k9" style="left:1108.02px;top:213.80px">.</div>
<div class="q k9" style="left:1115.86px;top:213.80px">9</div>
<div class="q k8" style="left:834.47px;top:240.89px">7</div>
<div class="q k8" style="left:848.79px;top:240.89px">5</div>
<div class="q k8" style="left:863.12px;top:240.89px">.</div>
<div class="q k8" style="left:870.95px;top:240.89px">9</div>
<div class="q k9" style="left:1081.31px;top:240.89px">2</div>
<div class="q k9" style="left:1095.64px;top:240.89px">4</div>
<div class="q k9" style="left:1109.96px;top:240.89px">.</div>
<div class="q k9" style="left:1121.06px;top:240.89px">I</div>
<div class="q k8" style="left:841.87px;top:268.80px">7</div>
<div class="q k8" style="left:856.20px;top:268.80px">8</div>
<div class="q k8" style="left:870.52px;top:268.80px">.</div>
<div class="q k8" style="left:878.36px;top:268.80px">9</div>
<div class="q k9" style="left:1088.72px;top:268.80px">2</div>
<div class="q k9" style="left:1106.30px;top:268.80px">I</div>
<div class="q k9" style="left:1117.39px;top:268.80px">.</div>
<div class="q k9" style="left:1128.47px;top:268.80px">I</div>
<div class="q k6" style="left:29.80px;top:413.89px">2</div>
<div class="q k6" style="left:45.41px;top:413.89px">0</div>
<div class="q k6" style="left:61.03px;top:413.89px">0</div>
<div class="q k6" style="left:76.66px;top:413.89px">8</div>
<div class="q k7" style="left:92.28px;top:413.89px">年</div>
<div class="q k8" style="left:199.26px;top:414.89px">3</div>
<div class="q k8" style="left:213.59px;top:414.89px">5</div>
<div class="q k8" style="left:227.91px;top:414.89px">.</div>
<div class="q k8" style="left:239.01px;top:414.89px">I</div>
<div class="q k9" style="left:449.76px;top:414.89px">6</div>
<div class="q k9" style="left:464.09px;top:414.89px">4</div>
<div class="q k9" style="left:478.41px;top:414.89px">.</div>
<div class="q k9" style="left:486.25px;top:414.89px">9</div>
<div class="q k6" style="left:29.80px;top:441.19px">2</div>
<div class="q k6" style="left:45.41px;top:441.19px">0</div>
<div class="q k6" style="left:64.55px;top:441.19px">I</div>
<div class="q k6" style="left:76.64px;top:441.19px">2</div>
<div class="q k7" style="left:92.27px;top:441.19px">年</div>
<div class="q k8" style="left:209.76px;top:442.19px">3</div>
<div class="q k8" style="left:224.09px;top:442.19px">9</div>
<div class="q k8" style="left:238.41px;top:442.19px">.</div>
<div class="q k8" style="left:246.25px;top:442.19px">3</div>
<div class="q k9" style="left:460.26px;top:442.19px">6</div>
<div class="q k9" style="left:474.59px;top:442.19px">0</div>
<div class="q k9" style="left:488.91px;top:442.19px">.</div>
<div class="q k9" style="left:496.75px;top:442.19px">7</div>
<div class="q k6" style="left:29.80px;top:468.80px">2</div>
<div class="q k6" style="left:45.41px;top:468.80px">0</div>
<div class="q k6" style="left:64.55px;top:468.80px">I</div>
<div class="q k6" style="left:76.64px;top:468.80px">6</div>
<div class="q k7" style="left:92.27px;top:468.80px">年</div>
<div class="q k8" style="left:213.51px;top:469.80px">4</div>
<div class="q k8" style="left:227.84px;top:469.80px">0</div>
<div class="q k8" style="left:242.16px;top:469.80px">.</div>
<div class="q k8" style="left:250.00px;top:469.80px">8</div>
<div class="q k9" style="left:464.01px;top:469.80px">5</div>
<div class="q k9" style="left:478.34px;top:469.80px">9</div>
<div class="q k9" style="left:492.66px;top:469.80px">.</div>
<div class="q k9" style="left:500.50px;top:469.80px">2</div>
<div class="q k6" style="left:29.80px;top:495.69px">2</div>
<div class="q k6" style="left:45.41px;top:495.69px">0</div>
<div class="q k6" style="left:61.03px;top:495.69px">2</div>
<div class="q k6" style="left:80.18px;top:495.69px">I</div>
<div class="q k7" style="left:92.27px;top:495.69px">年</div>
<div class="q k8" style="left:216.01px;top:496.69px">4</div>
<div class="q k8" style="left:233.60px;top:496.69px">I</div>
<div class="q k8" style="left:244.68px;top:496.69px">.</div>
<div class="q k8" style="left:252.50px;top:496.69px">8</div>
<div class="q k9" style="left:466.51px;top:496.69px">5</div>
<div class="q k9" style="left:480.84px;top:496.69px">8</div>
<div class="q k9" style="left:495.16px;top:496.69px">.</div>
<div class="q k9" style="left:503.00px;top:496.69px">2</div>
<div class="q k8" style="left:746.58px;top:415.80px">3</div>
<div class="q k8" style="left:760.90px;top:415.80px">9</div>
<div class="q k8" style="left:775.23px;top:415.80px">.</div>
<div class="q k8" style="left:783.06px;top:415.80px">3</div>
<div class="q k9" style="left:993.22px;top:415.80px">6</div>
<div class="q k9" style="left:1007.54px;top:415.80px">0</div>
<div class="q k9" style="left:1021.87px;top:415.80px">.</div>
<div class="q k9" style="left:1029.70px;top:415.80px">7</div>
<div class="q k8" style="left:757.92px;top:442.59px">4</div>
<div class="q k8" style="left:772.25px;top:442.59px">3</div>
<div class="q k8" style="left:786.57px;top:442.59px">.</div>
<div class="q k8" style="left:794.41px;top:442.59px">9</div>
<div class="q k9" style="left:1004.56px;top:442.59px">5</div>
<div class="q k9" style="left:1018.89px;top:442.59px">6</div>
<div class="q k9" style="left:1033.21px;top:442.59px">.</div>
<div class="q k9" style="left:1044.31px;top:442.59px">I</div>
<div class="q k8" style="left:774.67px;top:470.39px">5</div>
<div class="q k8" style="left:789.00px;top:470.39px">0</div>
<div class="q k8" style="left:803.32px;top:470.39px">.</div>
<div class="q k8" style="left:811.16px;top:470.39px">7</div>
<div class="q k9" style="left:1021.31px;top:470.39px">4</div>
<div class="q k9" style="left:1035.64px;top:470.39px">9</div>
<div class="q k9" style="left:1049.96px;top:470.39px">.</div>
<div class="q k9" style="left:1057.80px;top:470.39px">3</div>
<div class="q k8" style="left:790.47px;top:498.39px">5</div>
<div class="q k8" style="left:804.79px;top:498.39px">7</div>
<div class="q k8" style="left:819.12px;top:498.39px">.</div>
<div class="q k8" style="left:830.22px;top:498.39px">I</div>
<div class="q k9" style="left:1037.11px;top:498.39px">4</div>
<div class="q k9" style="left:1051.43px;top:498.39px">2</div>
<div class="q k9" style="left:1065.76px;top:498.39px">.</div>
<div class="q k9" style="left:1073.60px;top:498.39px">9</div>
<div class="q k6" style="left:29.80px;top:646.89px">2</div>
<div class="q k6" style="left:45.41px;top:646.89px">0</div>
<div class="q k6" style="left:61.03px;top:646.89px">0</div>
<div class="q k6" style="left:76.66px;top:646.89px">8</div>
<div class="q k7" style="left:92.28px;top:646.89px">年</div>
<div class="q k6" style="left:29.80px;top:674.59px">2</div>
<div class="q k6" style="left:45.41px;top:674.59px">0</div>
<div class="q k6" style="left:64.55px;top:674.59px">I</div>
<div class="q k6" style="left:76.64px;top:674.59px">2</div>
<div class="q k7" style="left:92.27px;top:674.59px">年</div>
<div class="q k8" style="left:170.26px;top:675.59px">2</div>
<div class="q k8" style="left:184.59px;top:675.59px">3</div>
<div class="q k8" style="left:198.91px;top:675.59px">.</div>
<div class="q k8" style="left:206.75px;top:675.59px">0</div>
<div class="q k9" style="left:420.47px;top:675.59px">7</div>
<div class="q k9" style="left:434.79px;top:675.59px">7</div>
<div class="q k9" style="left:449.12px;top:675.59px">.</div>
<div class="q k9" style="left:456.95px;top:675.59px">0</div>
<div class="q k6" style="left:29.80px;top:701.50px">2</div>
<div class="q k6" style="left:45.41px;top:701.50px">0</div>
<div class="q k6" style="left:64.55px;top:701.50px">I</div>
<div class="q k6" style="left:76.64px;top:701.50px">6</div>
<div class="q k7" style="left:92.27px;top:701.50px">年</div>
<div class="q k8" style="left:184.26px;top:702.50px">2</div>
<div class="q k8" style="left:198.59px;top:702.50px">8</div>
<div class="q k8" style="left:212.91px;top:702.50px">.</div>
<div class="q k8" style="left:220.75px;top:702.50px">6</div>
<div class="q k9" style="left:434.47px;top:702.50px">7</div>
<div class="q k9" style="left:452.05px;top:702.50px">I</div>
<div class="q k9" style="left:463.14px;top:702.50px">.</div>
<div class="q k9" style="left:470.95px;top:702.50px">4</div>
<div class="q k6" style="left:29.80px;top:729.50px">2</div>
<div class="q k6" style="left:45.41px;top:729.50px">0</div>
<div class="q k6" style="left:61.03px;top:729.50px">2</div>
<div class="q k6" style="left:80.18px;top:729.50px">I</div>
<div class="q k7" style="left:92.27px;top:729.50px">年</div>
<div class="q k8" style="left:188.01px;top:730.50px">3</div>
<div class="q k8" style="left:202.34px;top:730.50px">0</div>
<div class="q k8" style="left:216.66px;top:730.50px">.</div>
<div class="q k8" style="left:227.76px;top:730.50px">I</div>
<div class="q k9" style="left:438.22px;top:730.50px">6</div>
<div class="q k9" style="left:452.54px;top:730.50px">9</div>
<div class="q k9" style="left:466.87px;top:730.50px">.</div>
<div class="q k9" style="left:474.70px;top:730.50px">9</div>
<div class="q k8" style="left:690.26px;top:647.89px">I</div>
<div class="q k8" style="left:701.34px;top:647.89px">5</div>
<div class="q k8" style="left:715.66px;top:647.89px">.</div>
<div class="q k8" style="left:723.48px;top:647.89px">3</div>
<div class="q k9" style="left:932.72px;top:647.89px">8</div>
<div class="q k9" style="left:947.04px;top:647.89px">4</div>
<div class="q k9" style="left:961.37px;top:647.89px">.</div>
<div class="q k9" style="left:969.20px;top:647.89px">7</div>
<div class="q k8" style="left:723.12px;top:675.59px">3</div>
<div class="q k8" style="left:737.45px;top:675.59px">0</div>
<div class="q k8" style="left:751.77px;top:675.59px">.</div>
<div class="q k8" style="left:759.61px;top:675.59px">0</div>
<div class="q k9" style="left:968.81px;top:675.59px">7</div>
<div class="q k9" style="left:983.14px;top:675.59px">0</div>
<div class="q k9" style="left:997.46px;top:675.59px">.</div>
<div class="q k9" style="left:1005.30px;top:675.59px">0</div>
<div class="q k8" style="left:743.26px;top:702.50px">3</div>
<div class="q k8" style="left:757.59px;top:702.50px">8</div>
<div class="q k8" style="left:771.91px;top:702.50px">.</div>
<div class="q k8" style="left:779.75px;top:702.50px">2</div>
<div class="q k9" style="left:988.97px;top:702.50px">6</div>
<div class="q k9" style="left:1006.55px;top:702.50px">I</div>
<div class="q k9" style="left:1017.64px;top:702.50px">.</div>
<div class="q k9" style="left:1025.45px;top:702.50px">8</div>
<div class="q k8" style="left:752.62px;top:730.50px">4</div>
<div class="q k8" style="left:766.95px;top:730.50px">2</div>
<div class="q k8" style="left:781.27px;top:730.50px">.</div>
<div class="q k8" style="left:789.11px;top:730.50px">0</div>
<div class="q k9" style="left:998.31px;top:730.50px">5</div>
<div class="q k9" style="left:1012.64px;top:730.50px">8</div>
<div class="q k9" style="left:1026.96px;top:730.50px">.</div>
<div class="q k9" style="left:1034.80px;top:730.50px">0</div>
<div class="q k10" style="left:140.00px;top:654.25px">※</div>
<div class="q k11" style="left:155.03px;top:654.25px">2</div>
<div class="q k11" style="left:166.00px;top:654.25px">0</div>
<div class="q k11" style="left:176.97px;top:654.25px">0</div>
<div class="q k11" style="left:187.94px;top:654.25px">8</div>
<div class="q k10" style="left:198.94px;top:654.25px">年</div>
<div class="q k10" style="left:213.95px;top:654.25px">は</div>
<div class="q k10" style="left:228.97px;top:654.25px">調</div>
<div class="q k10" style="left:244.00px;top:654.25px">査</div>
<div class="q k10" style="left:259.02px;top:654.25px">し</div>
<div class="q k10" style="left:274.03px;top:654.25px">て</div>
<div class="q k10" style="left:289.06px;top:654.25px">い</div>
<div class="q k10" style="left:304.08px;top:654.25px">な</div>
<div class="q k10" style="left:319.09px;top:654.25px">い</div>
<div class="q k12" style="left:36.59px;top:768.19px">※</div>
<div class="q k13" style="left:54.12px;top:768.19px">2</div>
<div class="q k13" style="left:65.78px;top:768.19px">0</div>
<div class="q k13" style="left:77.44px;top:768.19px">0</div>
<div class="q k13" style="left:89.12px;top:768.19px">8</div>
<div class="q k12" style="left:102.03px;top:768.19px">年</div>
<div class="q k13" style="left:141.08px;top:768.19px">2</div>
<div class="q k13" style="left:155.72px;top:768.19px">I</div>
<div class="q k12" style="left:165.02px;top:768.19px">年</div>
<div class="q k12" style="left:182.53px;top:768.19px">に</div>
<div class="q k12" style="left:200.06px;top:768.19px">か</div>
<div class="q k12" style="left:217.59px;top:768.19px">け</div>
<div class="q k12" style="left:235.11px;top:768.19px">て</div>
<div class="q k12" style="left:252.64px;top:768.19px">変</div>
<div class="q k12" style="left:270.17px;top:768.19px">化</div>
<div class="q k12" style="left:287.70px;top:768.19px">が</div>
<div class="q k12" style="left:305.22px;top:768.19px">あ</div>
<div class="q k12" style="left:322.75px;top:768.19px">っ</div>
<div class="q k12" style="left:340.28px;top:768.19px">た</div>
<div class="q k12" style="left:357.81px;top:768.19px">も</div>
<div class="q k12" style="left:375.33px;top:768.19px">の</div>
<div class="q k12" style="left:392.86px;top:768.19px">を</div>
<div class="q k12" style="left:410.39px;top:768.19px">中</div>
<div class="q k12" style="left:427.91px;top:768.19px">心</div>
<div class="q k12" style="left:445.44px;top:768.19px">に</div>
<div class="q k12" style="left:462.97px;top:768.19px">抜</div>
<div class="q k12" style="left:480.50px;top:768.19px">粋</div>
<div class="q k12" style="left:498.02px;top:768.19px">し</div>
<div class="q k12" style="left:515.55px;top:768.19px">て</div>
<div class="q k12" style="left:533.08px;top:768.19px">示</div>
<div class="q k12" style="left:550.61px;top:768.19px">し</div>
<div class="q k12" style="left:568.12px;top:768.19px">た</div>
<svg width="19" height="10" viewBox="0 0 19 10" style="position:absolute;left:120.56px;top:773.19px"><path d="M0.5 5H17.5M13.5 1.5L17.8 5L13.5 8.5" stroke="#000" stroke-width="1.3" fill="none"></path></svg>
</body></html>
